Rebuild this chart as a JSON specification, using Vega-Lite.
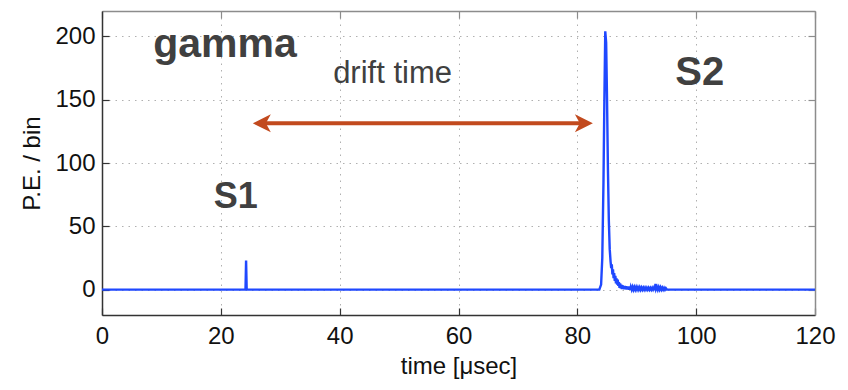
{
  "$schema": "https://vega.github.io/schema/vega-lite/v6.json",
  "width": 713,
  "height": 304,
  "autosize": "none",
  "padding": {"left": 102, "top": 11, "right": 33, "bottom": 75},
  "background": "white",
  "config": {
    "view": {"stroke": null},
    "axis": {
      "labelFont": "Liberation Sans",
      "labelFontSize": 24,
      "labelColor": "#111111",
      "labelFlush": false,
      "labelOverlap": false,
      "labelBound": false,
      "titleFont": "Liberation Sans",
      "titleFontSize": 24,
      "titleFontWeight": "normal",
      "titleColor": "#111111",
      "domainColor": "#333333",
      "domainWidth": 1.5,
      "tickColor": "#333333",
      "tickSize": -7,
      "tickWidth": 1.2,
      "gridColor": "#b0b0b0",
      "gridDash": [1.5, 5],
      "gridWidth": 1
    }
  },
  "datasets": {
    "signal": [
      {"time": 0, "pe": 0},
      {"time": 24.15, "pe": 0},
      {"time": 24.25, "pe": 23},
      {"time": 24.35, "pe": 0},
      {"time": 83.7, "pe": 0},
      {"time": 84.0, "pe": 4},
      {"time": 84.2, "pe": 25},
      {"time": 84.4, "pe": 85},
      {"time": 84.55, "pe": 150},
      {"time": 84.7, "pe": 204},
      {"time": 84.85, "pe": 195},
      {"time": 85.0, "pe": 150},
      {"time": 85.15, "pe": 95},
      {"time": 85.3, "pe": 55},
      {"time": 85.45, "pe": 32},
      {"time": 85.6, "pe": 22},
      {"time": 85.7, "pe": 17},
      {"time": 85.8, "pe": 20},
      {"time": 85.9, "pe": 12},
      {"time": 86.0, "pe": 16},
      {"time": 86.1, "pe": 9},
      {"time": 86.2, "pe": 13},
      {"time": 86.3, "pe": 7},
      {"time": 86.4, "pe": 11},
      {"time": 86.5, "pe": 5},
      {"time": 86.6, "pe": 9},
      {"time": 86.7, "pe": 4},
      {"time": 86.8, "pe": 8},
      {"time": 86.9, "pe": 3},
      {"time": 87.0, "pe": 6},
      {"time": 87.1, "pe": 1.5},
      {"time": 87.2, "pe": 5},
      {"time": 87.3, "pe": 1},
      {"time": 87.4, "pe": 4},
      {"time": 87.5, "pe": 0.5},
      {"time": 87.6, "pe": 3.5},
      {"time": 87.7, "pe": 0.5},
      {"time": 87.8, "pe": 3},
      {"time": 87.9, "pe": 0.3},
      {"time": 88.0, "pe": 3},
      {"time": 88.1, "pe": 0.3},
      {"time": 88.2, "pe": 2.8},
      {"time": 88.3, "pe": 0.2},
      {"time": 88.4, "pe": 2.5},
      {"time": 88.5, "pe": 0.2},
      {"time": 88.6, "pe": 2.5},
      {"time": 88.7, "pe": 0},
      {"time": 88.8, "pe": 2.3},
      {"time": 88.9, "pe": 0},
      {"time": 89.0, "pe": 2.2},
      {"time": 89.15, "pe": 0},
      {"time": 89.3, "pe": 2.2},
      {"time": 89.45, "pe": 0},
      {"time": 89.6, "pe": 2},
      {"time": 89.75, "pe": 0},
      {"time": 89.9, "pe": 2},
      {"time": 90.05, "pe": 0},
      {"time": 90.2, "pe": 1.8},
      {"time": 90.35, "pe": 0},
      {"time": 90.5, "pe": 1.8},
      {"time": 90.65, "pe": 0},
      {"time": 90.8, "pe": 1.7},
      {"time": 90.95, "pe": 0},
      {"time": 91.1, "pe": 1.6},
      {"time": 91.25, "pe": 0},
      {"time": 91.4, "pe": 1.6},
      {"time": 91.55, "pe": 0},
      {"time": 91.7, "pe": 1.5},
      {"time": 91.85, "pe": 0},
      {"time": 92.0, "pe": 1.5},
      {"time": 92.15, "pe": 0},
      {"time": 92.3, "pe": 1.4},
      {"time": 92.45, "pe": 0},
      {"time": 92.6, "pe": 1.5},
      {"time": 92.75, "pe": 0},
      {"time": 92.9, "pe": 1.6},
      {"time": 93.05, "pe": 0.5},
      {"time": 93.15, "pe": 4.5},
      {"time": 93.25, "pe": 0.5},
      {"time": 93.4, "pe": 2.2},
      {"time": 93.55, "pe": 0},
      {"time": 93.7, "pe": 2},
      {"time": 93.85, "pe": 0},
      {"time": 94.0, "pe": 1.8},
      {"time": 94.15, "pe": 0},
      {"time": 94.3, "pe": 1.6},
      {"time": 94.45, "pe": 0},
      {"time": 94.6, "pe": 1.4},
      {"time": 94.75, "pe": 0},
      {"time": 94.9, "pe": 1.2},
      {"time": 95.1, "pe": 0},
      {"time": 120, "pe": 0}
    ],
    "arrow": [
      {"x_start": 26.4, "x_end": 81.6, "y": 131.3}
    ],
    "arrowLeft": [{"x": 26.9, "y": 131.3}],
    "arrowRight": [{"x": 81.1, "y": 131.3}]
  },
  "resolve": {"axis": {"x": "independent", "y": "independent"}},
  "layer": [
    {
      "data": {"name": "signal"},
      "mark": {"type": "line", "color": "#1f48ff", "strokeWidth": 2.4, "interpolate": "linear"},
      "encoding": {
        "x": {
          "field": "time",
          "type": "quantitative",
          "scale": {"domain": [0, 120], "nice": false, "zero": false},
          "axis": {
            "orient": "bottom",
            "values": [0, 20, 40, 60, 80, 100, 120],
            "grid": true,
            "title": "time [μsec]",
            "labelPadding": 16,
            "titlePadding": 6
          }
        },
        "y": {
          "field": "pe",
          "type": "quantitative",
          "scale": {"domain": [-20, 220], "nice": false, "zero": false},
          "axis": {
            "orient": "left",
            "values": [0, 50, 100, 150, 200],
            "grid": true,
            "title": "P.E. / bin",
            "labelPadding": 14,
            "titlePadding": 10
          }
        }
      }
    },
    {
      "data": {"name": "signal"},
      "mark": {"type": "line", "opacity": 0},
      "encoding": {
        "x": {
          "field": "time",
          "type": "quantitative",
          "scale": {"domain": [0, 120], "nice": false, "zero": false},
          "axis": {
            "orient": "top",
            "values": [0, 20, 40, 60, 80, 100, 120],
            "labels": false,
            "grid": false,
            "title": null,
            "domainColor": "#8c8c8c",
            "tickColor": "#8c8c8c"
          }
        },
        "y": {
          "field": "pe",
          "type": "quantitative",
          "scale": {"domain": [-20, 220], "nice": false, "zero": false},
          "axis": {
            "orient": "right",
            "values": [0, 50, 100, 150, 200],
            "labels": false,
            "grid": false,
            "title": null,
            "domainColor": "#8c8c8c",
            "tickColor": "#8c8c8c"
          }
        }
      }
    },
    {
      "data": {"name": "arrow"},
      "mark": {"type": "rule", "color": "#c24a1e", "strokeWidth": 4},
      "encoding": {
        "x": {"field": "x_start", "type": "quantitative", "scale": {"domain": [0, 120], "nice": false, "zero": false}, "axis": null},
        "x2": {"field": "x_end"},
        "y": {"field": "y", "type": "quantitative", "scale": {"domain": [-20, 220], "nice": false, "zero": false}, "axis": null}
      }
    },
    {
      "data": {"name": "arrowLeft"},
      "mark": {"type": "point", "shape": "M -1 0 L 1 -1 L 0.45 0 L 1 1 Z", "filled": true, "color": "#c24a1e", "opacity": 1, "size": 324, "strokeWidth": 0},
      "encoding": {
        "x": {"field": "x", "type": "quantitative", "scale": {"domain": [0, 120], "nice": false, "zero": false}, "axis": null},
        "y": {"field": "y", "type": "quantitative", "scale": {"domain": [-20, 220], "nice": false, "zero": false}, "axis": null}
      }
    },
    {
      "data": {"name": "arrowRight"},
      "mark": {"type": "point", "shape": "M 1 0 L -1 -1 L -0.45 0 L -1 1 Z", "filled": true, "color": "#c24a1e", "opacity": 1, "size": 324, "strokeWidth": 0},
      "encoding": {
        "x": {"field": "x", "type": "quantitative", "scale": {"domain": [0, 120], "nice": false, "zero": false}, "axis": null},
        "y": {"field": "y", "type": "quantitative", "scale": {"domain": [-20, 220], "nice": false, "zero": false}, "axis": null}
      }
    },
    {
      "data": {"values": [{"label": "gamma", "x": 20.7, "y": 183.7}]},
      "mark": {"type": "text", "font": "Liberation Sans", "fontWeight": "bold", "fontSize": 41, "color": "#404040", "align": "center", "baseline": "alphabetic"},
      "encoding": {
        "x": {"field": "x", "type": "quantitative", "scale": {"domain": [0, 120], "nice": false, "zero": false}, "axis": null},
        "y": {"field": "y", "type": "quantitative", "scale": {"domain": [-20, 220], "nice": false, "zero": false}, "axis": null},
        "text": {"field": "label"}
      }
    },
    {
      "data": {"values": [{"label": "S1", "x": 22.5, "y": 64.5}]},
      "mark": {"type": "text", "font": "Liberation Sans", "fontWeight": "bold", "fontSize": 36, "color": "#404040", "align": "center", "baseline": "alphabetic"},
      "encoding": {
        "x": {"field": "x", "type": "quantitative", "scale": {"domain": [0, 120], "nice": false, "zero": false}, "axis": null},
        "y": {"field": "y", "type": "quantitative", "scale": {"domain": [-20, 220], "nice": false, "zero": false}, "axis": null},
        "text": {"field": "label"}
      }
    },
    {
      "data": {"values": [{"label": "S2", "x": 100.6, "y": 161.6}]},
      "mark": {"type": "text", "font": "Liberation Sans", "fontWeight": "bold", "fontSize": 40, "color": "#404040", "align": "center", "baseline": "alphabetic"},
      "encoding": {
        "x": {"field": "x", "type": "quantitative", "scale": {"domain": [0, 120], "nice": false, "zero": false}, "axis": null},
        "y": {"field": "y", "type": "quantitative", "scale": {"domain": [-20, 220], "nice": false, "zero": false}, "axis": null},
        "text": {"field": "label"}
      }
    },
    {
      "data": {"values": [{"label": "drift time", "x": 48.9, "y": 163.2}]},
      "mark": {"type": "text", "font": "Liberation Sans", "fontSize": 31, "color": "#404040", "align": "center", "baseline": "alphabetic"},
      "encoding": {
        "x": {"field": "x", "type": "quantitative", "scale": {"domain": [0, 120], "nice": false, "zero": false}, "axis": null},
        "y": {"field": "y", "type": "quantitative", "scale": {"domain": [-20, 220], "nice": false, "zero": false}, "axis": null},
        "text": {"field": "label"}
      }
    }
  ]
}
